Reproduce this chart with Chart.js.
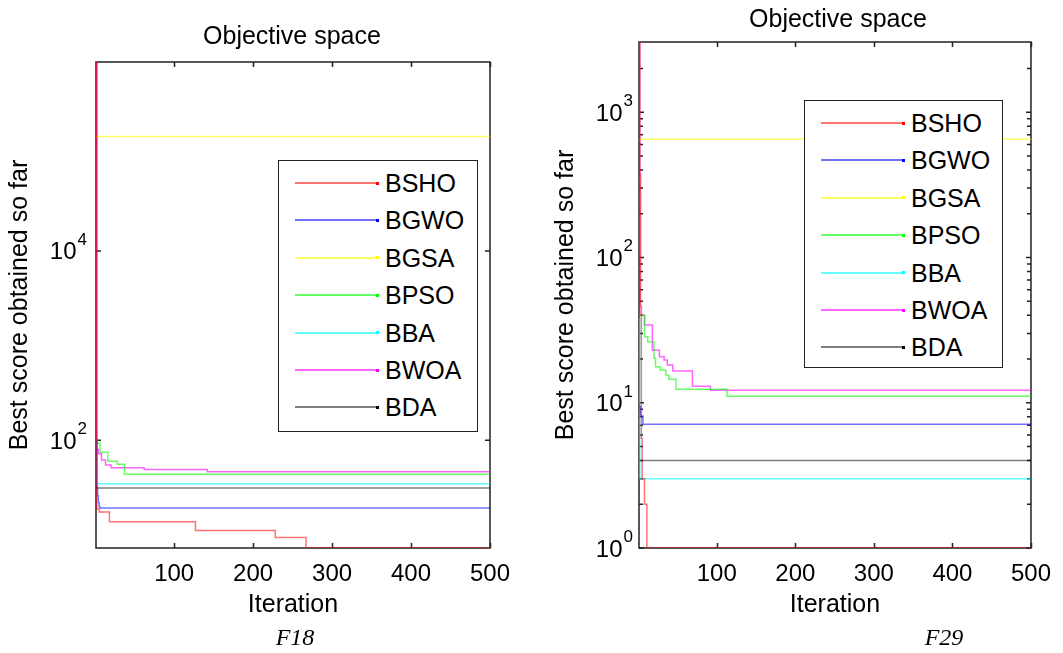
<!DOCTYPE html>
<html>
<head>
<meta charset="utf-8">
<script src="https://cdn.jsdelivr.net/npm/chart.js@4.4.1/dist/chart.umd.min.js"></script>
<style>
html,body{margin:0;padding:0;background:#fff;}
#wrap{position:relative;width:1063px;height:653px;overflow:hidden;font-family:"Liberation Sans",Arial,sans-serif;background:#fff;}
canvas{position:absolute;top:0;}
.ttl{position:absolute;font-size:25px;color:#000;white-space:nowrap;transform:translate(-50%,-50%);line-height:1;}
.cap{position:absolute;font-family:"Liberation Serif","Times New Roman",serif;font-style:italic;font-size:24px;color:#000;transform:translate(-50%,-50%);line-height:1;white-space:nowrap;}
.leg{position:absolute;border:1.5px solid #222;background:#fff;box-sizing:border-box;}
.row{position:absolute;left:0;height:0;width:100%;}
.smp{position:absolute;left:16px;width:83px;height:2px;top:-1px;}
.mk{position:absolute;left:97px;width:3px;height:3px;top:-1.5px;}
.lbl{position:absolute;left:106px;top:-14px;font-size:25px;line-height:28px;color:#000;white-space:nowrap;}
</style>
</head>
<body>
<div id="wrap">
  <canvas id="c1" width="531" height="653" style="left:0px"></canvas>
  <canvas id="c2" width="532" height="653" style="left:531px"></canvas>
  <div class="ttl" style="left:292px;top:35px">Objective space</div>
  <div class="ttl" style="left:838px;top:18px">Objective space</div>
  <div class="cap" style="left:295px;top:637px">F18</div>
  <div class="cap" style="left:944px;top:637px">F29</div>
  <div class="leg" id="leg1" style="left:278px;top:160px;width:200px;height:272px"></div>
  <div class="leg" id="leg2" style="left:804px;top:100px;width:199px;height:268px"></div>
</div>
<script>
// ---------------- data ----------------
const seriesNames = ['BSHO', 'BGWO', 'BGSA', 'BPSO', 'BBA', 'BWOA', 'BDA'];
const xTickVals = [100, 200, 300, 400, 500];

// F18 : [iteration, best score] breakpoints of each convergence curve
const f18_BSHO = [[1, 9.9e5], [2, 19], [5, 17.5], [18, 13.8], [127, 11.2], [228, 9.4], [267, 7.3], [500, 7.3]];
const f18_BGWO = [[1, 100], [2, 32], [3, 26], [4, 22], [5, 20], [6, 19.3], [500, 19.3]];
const f18_BGSA = [[1, 1.62e5], [500, 1.62e5]];
const f18_BPSO = [[1, 100], [3, 93], [6, 75], [16, 60], [28, 56], [37, 44], [500, 44]];
const f18_BBA  = [[1, 100], [2, 34.9], [500, 34.9]];
const f18_BWOA = [[1, 9.9e5], [2, 80], [4, 72], [8, 62], [13, 55], [20, 51.5], [62, 49.1], [142, 46.5], [500, 46.5]];
const f18_BDA  = [[1, 31.4], [500, 31.4]];
const f18_yTicks = [100, 10000];

// F29
const f29_BSHO = [[1, 3000], [2, 375], [3, 46], [4, 5.7], [5, 3], [8, 2], [11, 1], [500, 1]];
const f29_BGWO = [[1, 9.4], [3, 8.1], [6, 7.1], [500, 7.1]];
const f29_BGSA = [[1, 650], [500, 650]];
const f29_BPSO = [[1, 40], [8, 28.5], [12, 26.3], [20, 20.2], [22, 17.7], [28, 16.8], [35, 15.5], [39, 14.5], [48, 12.4], [113, 11.1], [500, 11.1]];
const f29_BBA  = [[1, 38], [2, 3], [500, 3]];
const f29_BWOA = [[1, 3000], [2, 40], [8, 34.3], [18, 23], [27, 20.7], [33, 19.7], [37, 18.2], [44, 16.5], [69, 13], [92, 12.2], [500, 12.2]];
const f29_BDA  = [[1, 4], [500, 4]];
const f29_yTicks = [1, 10, 100, 1000];

// ---------------- styles ----------------
const lineColors = ['rgba(255,0,0,0.55)', 'rgba(0,0,255,0.55)', 'rgba(255,255,0,0.6)', 'rgba(0,255,0,0.6)',
                    'rgba(0,255,255,0.6)', 'rgba(255,0,255,0.6)', 'rgba(0,0,0,0.5)'];
const markColors = ['#ff0000', '#0000ff', '#ffff00', '#00ff00', '#00ffff', '#ff00ff', '#000000'];
const FAM = '"Liberation Sans", Arial, sans-serif';
const FONT = {family: FAM, size: 25};
const TFONT = {family: FAM, size: 24};

const framePlugin = {
  id: 'frame',
  beforeDatasetsDraw(chart, args, opts) {
    const {ctx, chartArea: a, scales} = chart;
    const x = scales.x, y = scales.y;
    ctx.save();
    ctx.strokeStyle = '#222';
    ctx.lineWidth = 1.5;
    ctx.beginPath();
    ctx.rect(a.left, a.top, a.right - a.left, a.bottom - a.top);
    ctx.stroke();
    ctx.beginPath();
    for (const v of xTickVals) {
      const px = Math.round(x.getPixelForValue(v)) + 0.5;
      ctx.moveTo(px, a.bottom); ctx.lineTo(px, a.bottom - 5);
      ctx.moveTo(px, a.top); ctx.lineTo(px, a.top + 5);
    }
    for (const v of opts.major) {
      const py = y.getPixelForValue(v);
      ctx.moveTo(a.left, py); ctx.lineTo(a.left + 5, py);
      ctx.moveTo(a.right, py); ctx.lineTo(a.right - 5, py);
    }
    for (const v of opts.minor) {
      const py = y.getPixelForValue(v);
      if (py < a.top + 1 || py > a.bottom - 1) continue;
      ctx.moveTo(a.left, py); ctx.lineTo(a.left + 4, py);
      ctx.moveTo(a.right, py); ctx.lineTo(a.right - 4, py);
    }
    ctx.stroke();
    // y tick labels as 10 with a raised exponent
    ctx.fillStyle = '#000';
    ctx.textAlign = 'left';
    ctx.textBaseline = 'alphabetic';
    for (const t of y.ticks) {
      const v = t.value;
      const e = String(Math.round(Math.log10(v)));
      const py = y.getPixelForValue(v);
      ctx.font = '17px ' + FAM;
      const we = ctx.measureText(e).width;
      ctx.font = '24px ' + FAM;
      const wb = ctx.measureText('10').width;
      const xr = a.left - opts.labelPad;
      const x0 = xr - we - wb - 1;
      ctx.fillText('10', x0, py + 8.5);
      ctx.font = '17px ' + FAM;
      ctx.fillText(e, x0 + wb + 1, py - 6);
    }
    ctx.restore();
  }
};

function minorTicks(majors) {
  const out = [];
  for (const m of majors.concat([majors[majors.length - 1] * 10])) {
    for (let k = 2; k <= 9; k++) out.push(m * k);
  }
  return out;
}

function makeChart(id, series, cfg) {
  return new Chart(document.getElementById(id), {
    type: 'line',
    data: {
      datasets: series.map((s, i) => ({
        label: seriesNames[i],
        data: s.map(p => ({x: p[0], y: p[1]})),
        borderColor: lineColors[i],
        borderWidth: 1.5,
        pointRadius: 0,
        stepped: 'before',
        fill: false
      }))
    },
    options: {
      responsive: false,
      animation: false,
      events: [],
      layout: {padding: {left: 0, right: cfg.padR, top: cfg.padT, bottom: 0}},
      plugins: {
        legend: {display: false},
        tooltip: {enabled: false},
        frame: {major: cfg.yTicks, minor: cfg.minor, labelPad: cfg.tickPad}
      },
      scales: {
        x: {
          type: 'linear', min: 1, max: 500,
          afterBuildTicks: s => { s.ticks = xTickVals.map(v => ({value: v})); },
          afterFit: s => { s.height = 105; },
          ticks: {font: TFONT, color: '#000', padding: 12, maxRotation: 0, autoSkip: false, callback: v => String(v)},
          grid: {display: false, drawTicks: false},
          border: {display: false},
          title: {display: true, text: 'Iteration', font: FONT, color: '#000', padding: {top: 0, bottom: 33}}
        },
        y: {
          type: 'logarithmic', min: cfg.yMin, max: cfg.yMax,
          afterBuildTicks: s => { s.ticks = cfg.yTicks.map(v => ({value: v})); },
          afterFit: s => { s.width = cfg.yW; },
          ticks: {display: false},
          grid: {display: false, drawTicks: false},
          border: {display: false},
          title: {display: true, text: 'Best score obtained so far', font: FONT, color: '#000', padding: {top: cfg.titlePad, bottom: 0}}
        }
      }
    },
    plugins: [framePlugin]
  });
}

makeChart('c1', [f18_BSHO, f18_BGWO, f18_BGSA, f18_BPSO, f18_BBA, f18_BWOA, f18_BDA],
  {padR: 41, padT: 62, yW: 96, yMin: 7.3, yMax: 9.9e5, yTicks: f18_yTicks, minor: [], tickPad: 9, titlePad: 5});
makeChart('c2', [f29_BSHO, f29_BGWO, f29_BGSA, f29_BPSO, f29_BBA, f29_BWOA, f29_BDA],
  {padR: 30, padT: 42, yW: 108, yMin: 1, yMax: 3040, yTicks: f29_yTicks, minor: minorTicks(f29_yTicks), tickPad: 6, titlePad: 20});

function buildLegend(id) {
  const box = document.getElementById(id);
  seriesNames.forEach((n, i) => {
    const r = document.createElement('div');
    r.className = 'row';
    r.style.top = (22 + 37.4 * i) + 'px';
    r.innerHTML = '<div class="smp" style="background:' + lineColors[i] + '"></div>' +
                  '<div class="mk" style="background:' + markColors[i] + '"></div>' +
                  '<div class="lbl">' + n + '</div>';
    box.appendChild(r);
  });
}
buildLegend('leg1');
buildLegend('leg2');
</script>
</body>
</html>
